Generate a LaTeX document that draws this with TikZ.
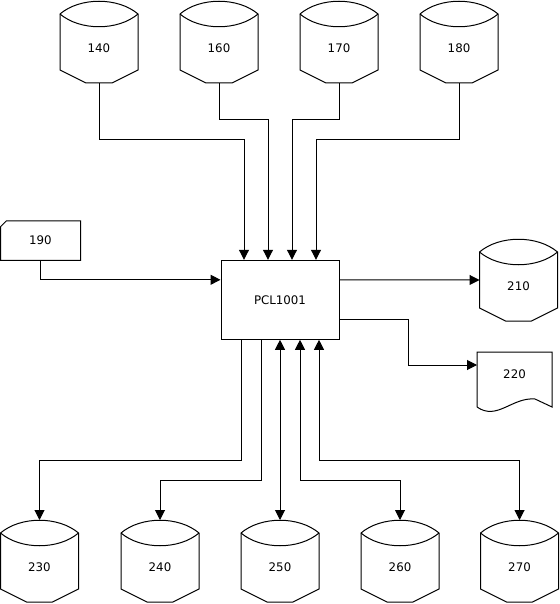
\documentclass[tikz,border=0pt]{standalone}
\usepackage{fontspec}
\setmainfont{DejaVu Sans}
\usetikzlibrary{arrows.meta,calc}
\tikzset{
  shp/.style={draw=black, line width=1pt, line join=miter},
  cylbox/.style={minimum width=78pt, minimum height=82pt, inner sep=0pt, outer sep=0pt},
  txt/.style={font=\fontsize{11.8}{14}\selectfont, inner sep=0pt},
  conn/.style={draw=black, line width=1pt, -{Triangle[width=10pt,length=10pt]}},
  bconn/.style={draw=black, line width=1pt, {Triangle[width=10pt,length=10pt]}-{Triangle[width=10pt,length=10pt]}},
}
\newcommand\cylpath[1]{%
  \draw[shp] ([yshift=-13pt]#1.north west) .. controls ([xshift=20pt,yshift=4pt]#1.north west) and ([xshift=-20pt,yshift=4pt]#1.north east) .. ([yshift=-13pt]#1.north east) -- ([yshift=13pt]#1.south east) -- ([xshift=-26pt]#1.south east) -- ([xshift=26pt]#1.south west) -- ([yshift=13pt]#1.south west) -- cycle;
  \draw[shp] ([yshift=-13pt]#1.north west) .. controls ([xshift=20pt,yshift=-30pt]#1.north west) and ([xshift=-20pt,yshift=-30pt]#1.north east) .. ([yshift=-13pt]#1.north east);
}
\newcommand\cylnode[4]{%
  \node[cylbox, label={[txt,yshift=-6pt]center:#4}] (#1) at (#2,#3) {};
  \cylpath{#1}
}
\begin{document}
\begin{tikzpicture}[x=1pt,y=-1pt]
\useasboundingbox (0,0) rectangle (559,604);
% central box
\node[shp, txt, minimum width=118pt, minimum height=79pt] (pcl) at (280,299.8) {PCL1001};
% top cylinders
\cylnode{c140}{99}{42}{140}
\cylnode{c160}{219}{42}{160}
\cylnode{c170}{339}{42}{170}
\cylnode{c180}{459}{42}{180}
% right cylinder
\cylnode{c210}{518.5}{280}{210}
% bottom cylinders
\cylnode{c230}{39.5}{561}{230}
\cylnode{c240}{160}{561}{240}
\cylnode{c250}{280}{561}{250}
\cylnode{c260}{400}{561}{260}
\cylnode{c270}{519.5}{561}{270}
% card 190
\node[cylbox, minimum width=80pt, minimum height=39.5pt, label={[txt]center:190}] (d190) at (40.5,240.5) {};
\draw[shp] ([yshift=-6pt]d190.north west) -- ([xshift=6pt]d190.north west) -- (d190.north east) -- (d190.south east) -- (d190.south west) -- cycle;
% document 220
\node[cylbox, minimum width=75pt, minimum height=55pt, label={[txt,yshift=5.5pt]center:220}] (d220) at (514.5,379.5) {};
\draw[shp] (d220.south west) -- (d220.north west) -- (d220.north east) -- (d220.south east) -- ([xshift=-17pt,yshift=8pt]d220.south east) .. controls ([xshift=-40pt,yshift=10pt]d220.south east) and ([xshift=-55pt,yshift=-14pt]d220.south east) .. (d220.south west);
% top connectors
\draw[conn] (c140.south) -- ++(0,57) -| ([xshift=-36pt]pcl.north);
\draw[conn] (c160.south) -- ++(0,37) -| ([xshift=-12pt]pcl.north);
\draw[conn] (c170.south) -- ++(0,37) -| ([xshift=12pt]pcl.north);
\draw[conn] (c180.south) -- ++(0,57) -| ([xshift=36pt]pcl.north);
% left
\draw[conn] (d190.south) |- ([yshift=20pt]pcl.west);
% right
\draw[conn] ([yshift=20pt]pcl.east) -- (c210.west);
\draw[conn] ([yshift=-20pt]pcl.east) -- ++(69,0) |- ([yshift=14.5pt]d220.west);
% bottom
\draw[conn] ([xshift=-39pt]pcl.south) -- ++(0,121) -| (c230.north);
\draw[conn] ([xshift=-19pt]pcl.south) -- ++(0,141) -| (c240.north);
\draw[bconn] (pcl.south) -- (c250.north);
\draw[bconn] ([xshift=20pt]pcl.south) -- ++(0,141) -| (c260.north);
\draw[bconn] ([xshift=39pt]pcl.south) -- ++(0,121) -| (c270.north);
\end{tikzpicture}
\end{document}
